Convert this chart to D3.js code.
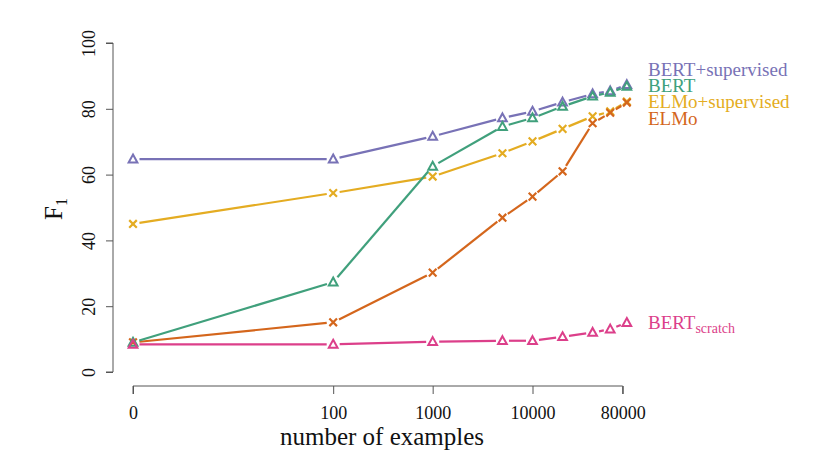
<!DOCTYPE html>
<html>
<head>
<meta charset="utf-8">
<script src="https://cdn.jsdelivr.net/npm/d3@7"></script>
<style>
  html, body { margin: 0; padding: 0; background: #fff; }
</style>
</head>
<body>
<svg id="chart" width="834" height="472"></svg>
<script>
  // data
  const examples = [0, 100, 1000, 5000, 10000, 20000, 40000, 60000, 88000];
  const xTicks = [0, 100, 1000, 10000, 80000];
  const yTicks = [0, 20, 40, 60, 80, 100];

  const bertSup   = [64.7, 64.7, 71.6, 77.2, 79.2, 82.0, 84.5, 85.4, 87.3];
  const bert      = [9.0, 27.3, 62.5, 74.6, 77.2, 80.7, 83.8, 85.0, 86.8];
  const elmoSup   = [45.0, 54.4, 59.4, 66.5, 70.1, 73.9, 77.7, 79.2, 82.2];
  const elmo      = [9.0, 15.1, 30.2, 46.9, 53.3, 61.0, 75.6, 78.8, 81.9];
  const bertScr   = [8.4, 8.4, 9.2, 9.5, 9.5, 10.7, 12.0, 13.0, 15.0];

  const series = [
    { name: "BERT+supervised", values: bertSup, color: "#7872b6", mark: "tri" },
    { name: "ELMo+supervised", values: elmoSup, color: "#e4ac22", mark: "cross" },
    { name: "ELMo", values: elmo, color: "#d4661c", mark: "cross" },
    { name: "BERT", values: bert, color: "#40a07c", mark: "tri" },
    { name: "BERT", sub: "scratch", values: bertScr, color: "#dc3f8a", mark: "tri" }
  ];

  const legendTop = [
    { text: "BERT+supervised", color: "#7872b6", y: 76 },
    { text: "BERT", color: "#40a07c", y: 92 },
    { text: "ELMo+supervised", color: "#e4ac22", y: 108 },
    { text: "ELMo", color: "#d4661c", y: 125 }
  ];

  const FONT = "'Liberation Serif', 'Times New Roman', 'DejaVu Serif', serif";

  const svg = d3.select("#chart").attr("font-family", FONT);

  const x = d3.scaleSymlog().constant(1).domain([0, 80000]).range([133, 622.7]);
  const y = d3.scaleLinear().domain([0, 100]).range([372, 43]);

  const axisColor = "#555";

  // x axis
  const xAxis = svg.append("g").attr("transform", "translate(0,386)")
    .call(d3.axisBottom(x).tickValues(xTicks).tickFormat(d3.format("d")).tickSizeOuter(0).tickSize(8));
  xAxis.attr("font-family", FONT);
  xAxis.select(".domain").attr("stroke", axisColor).attr("d", `M${x(0)},8V0H${x(80000)}V8`);
  xAxis.selectAll(".tick line").attr("stroke", axisColor);
  xAxis.selectAll(".tick text").attr("font-size", 18).attr("fill", "#111")
    .attr("font-family", FONT).attr("dy", "1.2em");

  // y axis
  const yAxis = svg.append("g").attr("transform", "translate(113,0)")
    .call(d3.axisLeft(y).tickValues(yTicks).tickSizeOuter(0).tickSize(7));
  yAxis.attr("font-family", FONT);
  yAxis.select(".domain").attr("stroke", axisColor).attr("d", `M-7,${y(0)}H0V${y(100)}H-7`);
  yAxis.selectAll(".tick line").attr("stroke", axisColor);
  yAxis.selectAll(".tick text")
    .attr("font-size", 18).attr("fill", "#111").attr("font-family", FONT)
    .attr("text-anchor", "middle").attr("x", 0).attr("dy", 0)
    .attr("transform", "translate(-18,0) rotate(-90)");

  // axis titles
  svg.append("text").attr("x", 382).attr("y", 445).attr("text-anchor", "middle")
    .attr("font-family", FONT).attr("font-size", 25).attr("fill", "#111").text("number of examples");

  const yt = svg.append("text").attr("transform", "translate(62,209) rotate(-90)")
    .attr("font-family", FONT).attr("text-anchor", "middle").attr("font-size", 25).attr("fill", "#111");
  yt.append("tspan").text("F");
  yt.append("tspan").attr("font-size", 16).attr("dy", 5).text("1");

  // lines with gaps around points (R type = "b")
  const gap = 6.5;
  const plot = svg.append("g");

  series.forEach(s => {
    const pts = s.values.map((v, i) => [x(examples[i]), y(v)]);
    const g = plot.append("g");
    const segs = [];
    for (let i = 0; i < pts.length - 1; i++) {
      const [x0, y0] = pts[i], [x1, y1] = pts[i + 1];
      const len = Math.hypot(x1 - x0, y1 - y0);
      if (len <= 2 * gap) continue;
      const ux = (x1 - x0) / len, uy = (y1 - y0) / len;
      segs.push([x0 + ux * gap, y0 + uy * gap, x1 - ux * gap, y1 - uy * gap]);
    }
    g.selectAll("line").data(segs).join("line")
      .attr("x1", d => d[0]).attr("y1", d => d[1])
      .attr("x2", d => d[2]).attr("y2", d => d[3])
      .attr("stroke", s.color).attr("stroke-width", 2.2);

    if (s.mark === "tri") {
      const r = 4.6;
      g.selectAll("path.m").data(pts).join("path").attr("class", "m")
        .attr("d", d => `M${d[0]},${d[1] - r}L${d[0] + r * 0.95},${d[1] + r * 0.72}L${d[0] - r * 0.95},${d[1] + r * 0.72}Z`)
        .attr("fill", "none").attr("stroke", s.color).attr("stroke-width", 2)
        .attr("stroke-linejoin", "miter");
    } else {
      const r = 3.8;
      g.selectAll("path.m").data(pts).join("path").attr("class", "m")
        .attr("d", d => `M${d[0] - r},${d[1] - r}L${d[0] + r},${d[1] + r}M${d[0] + r},${d[1] - r}L${d[0] - r},${d[1] + r}`)
        .attr("stroke", s.color).attr("stroke-width", 2.2);
    }
  });

  // labels on the right
  svg.selectAll("text.lab").data(legendTop).join("text").attr("class", "lab")
    .attr("x", 648).attr("y", d => d.y).attr("font-family", FONT).attr("font-size", 19)
    .attr("fill", d => d.color).text(d => d.text);

  const scr = svg.append("text").attr("x", 648).attr("y", 329).attr("font-family", FONT)
    .attr("font-size", 19).attr("fill", "#dc3f8a");
  scr.append("tspan").text("BERT");
  scr.append("tspan").attr("font-size", 14).attr("dy", 4).text("scratch");
</script>
</body>
</html>
